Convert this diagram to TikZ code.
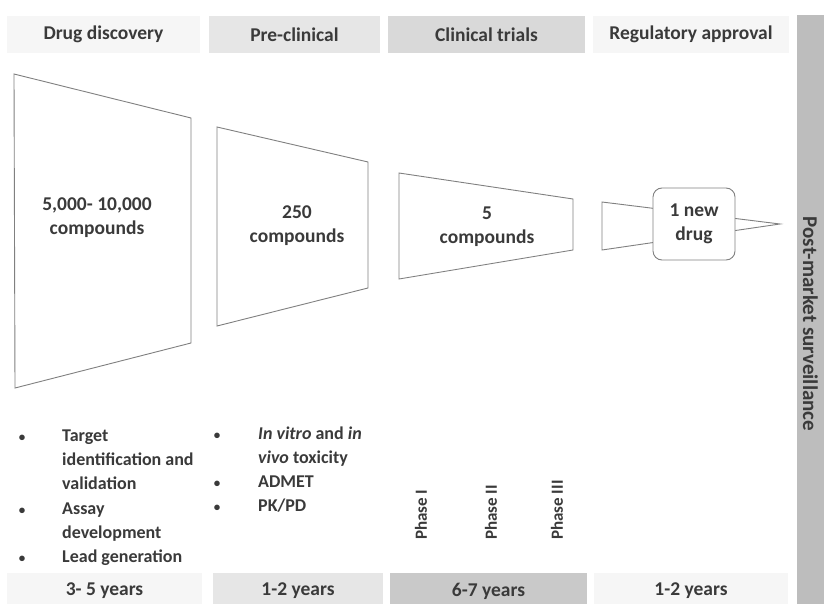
\documentclass[tikz,border=0pt]{standalone}
\usepackage{fontspec}
\setmainfont{Carlito}
\definecolor{hdlight}{HTML}{F6F6F6}
\definecolor{hdmid}{HTML}{E6E6E6}
\definecolor{hddark}{HTML}{D9D9D9}
\definecolor{ftdark}{HTML}{C9C9C9}
\definecolor{sidebar}{HTML}{BDBDBD}
\definecolor{inkgray}{HTML}{3A3A3A}
\begin{document}
\begin{tikzpicture}[x=1pt, y=-1pt, every node/.style={text=inkgray}]
        \tikzstyle{band} = [draw=none, minimum height=37pt, inner sep=0pt, font=\fontsize{19.5}{23}\selectfont\bfseries]
        \tikzstyle{trap} = [draw=black!50, line width=0.9pt, fill=white]
        \tikzstyle{count} = [align=center, font=\fontsize{19.5}{24}\selectfont\bfseries]
        \tikzstyle{bul} = [anchor=base, inner sep=0pt, font=\fontsize{13}{13}\selectfont\bfseries]
        \tikzstyle{itm} = [anchor=base west, inner sep=0pt, font=\fontsize{18}{22}\selectfont\bfseries]
        \tikzstyle{phase} = [rotate=90, anchor=west, inner sep=0pt, font=\fontsize{17}{20}\selectfont\bfseries]
        \useasboundingbox (0,0) rectangle (824,604);
        \fill[white] (0,0) rectangle (824,604);
        % stage headers
        \node[band, fill=hdlight, minimum width=193pt] (hdDisc) at (103.5,34.5) {Drug discovery};
        \node[band, fill=hdmid, minimum width=171pt] (hdPre) at (294.5,34.5) {Pre-clinical};
        \node[band, fill=hddark, minimum width=197pt] (hdClin) at (486.5,34.5) {Clinical trials};
        \node[band, fill=hdlight, minimum width=196pt] (hdReg) at (691,34.5) {Regulatory approval};
        % durations
        \node[band, fill=hdlight, minimum width=195pt, minimum height=36pt] (yrDisc) at (104.5,591) {3- 5 years};
        \node[band, fill=hdmid, minimum width=170pt, minimum height=36pt] (yrPre) at (298,591) {1-2 years};
        \node[band, fill=ftdark, minimum width=197pt, minimum height=36pt] (yrClin) at (488.5,591) {6-7 years};
        \node[band, fill=hdlight, minimum width=194pt, minimum height=36pt] (yrReg) at (691,591) {1-2 years};
        % side bar
        \fill[sidebar] (797,15) rectangle (824,604);
        \node[rotate=-90, font=\fontsize{21}{24}\selectfont\bfseries] (post) at (810.5,324) {Post-market surveillance};
        % funnel
        \draw[trap] (14,74) -- (191,118) -- (191,343) -- (15,388) -- cycle;
        \draw[trap] (217,127) -- (368,162) -- (368,288) -- (217,326) -- cycle;
        \draw[trap] (399,173) -- (573,199) -- (573,250) -- (399,279) -- cycle;
        \draw[trap] (602,202) -- (780,224) -- (602,250) -- cycle;
        \node[count] (cDisc) at (97,218) {5,000- 10,000\\compounds};
        \node[count] (cPre) at (297,226) {250\\compounds};
        \node[count] (cClin) at (487,227) {5\\compounds};
        \node[count, draw=black!50, line width=0.9pt, fill=white, rounded corners=9pt,
              minimum width=82pt, minimum height=72pt] (newDrug) at (694,224) {1 new\\drug};
        % activities
        \node[bul] (b1) at (22,441) {\textbullet};
        \node[itm] (t1a) at (62,441) {Target};
        \node[itm] (t1b) at (62,465) {identification and};
        \node[itm] (t1c) at (62,489) {validation};
        \node[bul] (b2) at (22,514) {\textbullet};
        \node[itm] (t2a) at (62,514) {Assay};
        \node[itm] (t2b) at (62,538) {development};
        \node[bul] (b3) at (22,562) {\textbullet};
        \node[itm] (t3a) at (62,562) {Lead generation};
        \node[bul] (b4) at (217,439) {\textbullet};
        \node[itm] (t4a) at (258,439) {\textit{In vitro} and \textit{in}};
        \node[itm] (t4b) at (258,463) {\textit{vivo} toxicity};
        \node[bul] (b5) at (217,487) {\textbullet};
        \node[itm] (t5a) at (258,487) {ADMET};
        \node[bul] (b6) at (217,511) {\textbullet};
        \node[itm] (t6a) at (258,511) {PK/PD};
        % phases
        \node[phase] (ph1) at (421,540) {Phase I};
        \node[phase] (ph2) at (491,540) {Phase II};
        \node[phase] (ph3) at (557,540) {Phase III};
      \end{tikzpicture}
\end{document}
